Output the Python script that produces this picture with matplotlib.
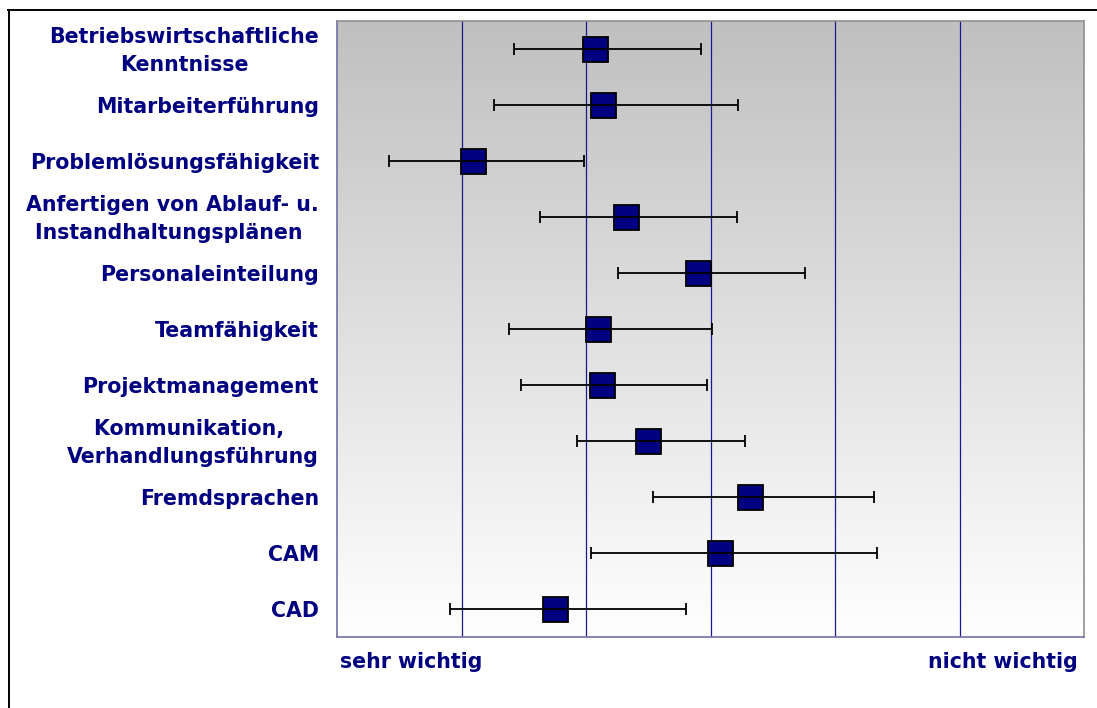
import numpy as np
import matplotlib
matplotlib.use("Agg")
import matplotlib.pyplot as plt
from matplotlib.lines import Line2D
from matplotlib.transforms import ScaledTranslation

# Skills rated on a scale from "sehr wichtig" (left) to "nicht wichtig" (right)
categories = [
    "Betriebswirtschaftliche\nKenntnisse",
    "Mitarbeiterführung",
    "Problemlösungsfähigkeit",
    "Anfertigen von Ablauf- u.\nInstandhaltungsplänen ",
    "Personaleinteilung",
    "Teamfähigkeit",
    "Projektmanagement",
    "Kommunikation, \nVerhandlungsführung",
    "Fremdsprachen",
    "CAM",
    "CAD",
]
mean_values = [2.07, 2.14, 1.09, 2.32, 2.90, 2.10, 2.13, 2.50, 3.32, 3.08, 1.75]
lower_values = [1.42, 1.26, 0.42, 1.63, 2.26, 1.38, 1.48, 1.93, 2.54, 2.04, 0.91]
upper_values = [2.92, 3.22, 1.98, 3.21, 3.76, 3.01, 2.97, 3.28, 4.31, 4.34, 2.80]
grid_ticks = [1, 2, 3, 4, 5]
scale_labels = ["sehr wichtig", "nicht wichtig"]

navy = "#000080"
font = "DejaVu Sans"
fsize = 14.8

fig = plt.figure(figsize=(10.97, 7.08), dpi=100)
ax = fig.add_axes([337 / 1097, 1 - 637 / 708, (1084 - 337) / 1097, (637 - 21) / 708])

# Vertical grey-to-white gradient behind the plot
grad = np.linspace(0, 1, 256).reshape(-1, 1)
ax.imshow(grad, extent=[0, 6, 10.5, -0.5], aspect="auto",
          cmap=matplotlib.colors.LinearSegmentedColormap.from_list(
              "bg", ["#c0c0c0", "#ffffff"]),
          zorder=0, interpolation="bicubic")

ax.set_xlim(0, 6)
ax.set_ylim(len(categories) - 0.5, -0.5)

for t in grid_ticks:
    ax.axvline(t, color="#1a1a8c", lw=0.9, zorder=1)

y = np.arange(len(categories))
mean = np.array(mean_values)
xerr = np.vstack([mean - np.array(lower_values), np.array(upper_values) - mean])

ax.plot(mean, y, linestyle="none", marker="s", markersize=18,
        markerfacecolor=navy, markeredgecolor="black", markeredgewidth=1.3,
        zorder=2)
ax.errorbar(mean, y, xerr=xerr, fmt="none", ecolor="black", elinewidth=1.3,
            capsize=4, capthick=1.3, zorder=3)

ax.set_yticks(y)
ax.set_yticklabels(categories, fontsize=fsize, fontweight="bold", color=navy,
                   family=font, multialignment="center", linespacing=1.53)
ax.tick_params(axis="y", length=0, pad=13)
ax.set_xticks([])

# Two-line labels sit slightly higher so both lines centre on the row
for lbl in ax.get_yticklabels():
    if "\n" in lbl.get_text():
        lbl.set_transform(lbl.get_transform()
                          + ScaledTranslation(0, 4 / 100, fig.dpi_scale_trans))

for side in ["left", "bottom"]:
    ax.spines[side].set_color("#7070a8")
for side in ["top", "right"]:
    ax.spines[side].set_color("#909090")
for s in ax.spines.values():
    s.set_linewidth(1.2)

fig.text(340 / 1097, 1 - 662 / 708, scale_labels[0], ha="left", va="center",
         fontsize=fsize, fontweight="bold", color=navy, family=font)
fig.text(1078 / 1097, 1 - 662 / 708, scale_labels[1], ha="right", va="center",
         fontsize=fsize, fontweight="bold", color=navy, family=font)

# Outer frame edges
fig.add_artist(Line2D([8 / 1097, 1], [1 - 9.5 / 708] * 2, color="black", lw=1.4,
                      transform=fig.transFigure))
fig.add_artist(Line2D([8.5 / 1097] * 2, [0, 1 - 9.5 / 708], color="black", lw=1.4,
                      transform=fig.transFigure))

fig.savefig("out.png", dpi=100)
